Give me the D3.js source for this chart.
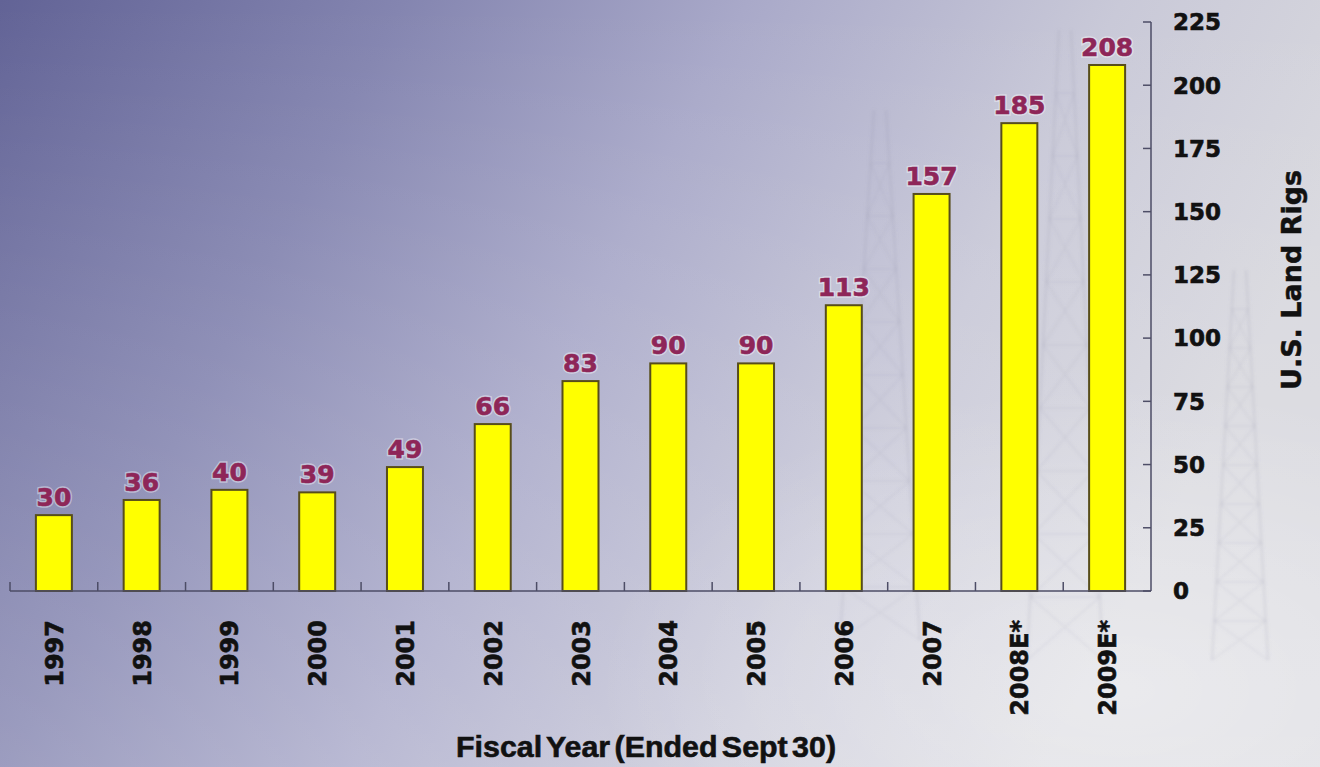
<!DOCTYPE html>
<html>
<head>
<meta charset="utf-8">
<script src="https://cdn.jsdelivr.net/npm/d3@7"></script>
<style>
  html, body { margin: 0; padding: 0; overflow: hidden; }
  svg { display: block; }
</style>
</head>
<body>
<svg id="chart" width="1320" height="767"></svg>
<script>
// U.S. land rig fleet by fiscal year
const years = ["1997", "1998", "1999", "2000", "2001", "2002", "2003", "2004", "2005", "2006", "2007", "2008E*", "2009E*"];
const rigs = [30, 36, 40, 39, 49, 66, 83, 90, 90, 113, 157, 185, 208];
const yTicks = [0, 25, 50, 75, 100, 125, 150, 175, 200, 225];

const W = 1320, H = 767;
const svg = d3.select("#chart");

// Background wash: deep slate-violet at top left fading to pale grey at right
const defs = svg.append("defs");
const bg = defs.append("linearGradient").attr("id", "bg")
  .attr("x1", "0").attr("y1", "0").attr("x2", "1").attr("y2", "0.3");
bg.append("stop").attr("offset", "0").attr("stop-color", "#626396");
bg.append("stop").attr("offset", "0.28").attr("stop-color", "#8485b0");
bg.append("stop").attr("offset", "0.52").attr("stop-color", "#a9a9c9");
bg.append("stop").attr("offset", "0.78").attr("stop-color", "#c9c9d8");
bg.append("stop").attr("offset", "1").attr("stop-color", "#d8d8de");
const glow = defs.append("radialGradient").attr("id", "glow")
  .attr("cx", "0.85").attr("cy", "0.9").attr("r", "0.4");
glow.append("stop").attr("offset", "0").attr("stop-color", "#ffffff").attr("stop-opacity", 0.35);
glow.append("stop").attr("offset", "1").attr("stop-color", "#ffffff").attr("stop-opacity", 0);
const bottomLift = defs.append("linearGradient").attr("id", "lift")
  .attr("x1", "0").attr("y1", "0").attr("x2", "0").attr("y2", "1");
bottomLift.append("stop").attr("offset", "0").attr("stop-color", "#ffffff").attr("stop-opacity", 0);
bottomLift.append("stop").attr("offset", "1").attr("stop-color", "#ffffff").attr("stop-opacity", 0.2);
defs.append("filter").attr("id", "soft")
  .append("feGaussianBlur").attr("stdDeviation", 1.6);

svg.append("rect").attr("width", W).attr("height", H).attr("fill", "url(#bg)");
svg.append("rect").attr("width", W).attr("height", H).attr("fill", "url(#lift)");
svg.append("rect").attr("width", W).attr("height", H).attr("fill", "url(#glow)");

// Faint, hazy drilling-derrick silhouettes in the backdrop
const derricks = [
  { base: 880, top: 110, half: 40, baseY: 640 },
  { base: 1065, top: 30, half: 38, baseY: 660 },
  { base: 1240, top: 270, half: 28, baseY: 660 }
];
const dg = svg.append("g").attr("stroke", "#80809a").attr("stroke-opacity", 0.12)
  .attr("fill", "none").attr("stroke-width", 3).attr("filter", "url(#soft)");
derricks.forEach(d => {
  const lx = d.base - d.half, rx = d.base + d.half;
  const tl = d.base - 6, tr = d.base + 6;
  dg.append("path").attr("d", `M${lx},${d.baseY}L${tl},${d.top}M${rx},${d.baseY}L${tr},${d.top}`);
  const n = 10;
  for (let k = 1; k < n; k++) {
    const t = k / n, t2 = (k + 1) / n;
    const yy = d.top + (d.baseY - d.top) * t;
    const yy2 = d.top + (d.baseY - d.top) * t2;
    const l = tl + (lx - tl) * t, r = tr + (rx - tr) * t;
    const l2 = tl + (lx - tl) * t2, r2 = tr + (rx - tr) * t2;
    dg.append("path").attr("stroke-width", 1.5)
      .attr("d", `M${l},${yy}L${r},${yy}M${l},${yy}L${r2},${yy2}M${r},${yy}L${l2},${yy2}`);
  }
});

// Scales
const x = d3.scaleBand().domain(years).range([10, 1151]).paddingInner(0.59).paddingOuter(0.295);
const xEdges = d3.scaleBand().domain(years).range([10, 1151]).padding(0);
const y = d3.scaleLinear().domain([0, 225]).range([591, 22]);

const heavyFont = "'DejaVu Sans', Verdana, sans-serif";
const titleFont = "'Liberation Sans', Arial, Helvetica, sans-serif";

// Bars
svg.append("g").selectAll("rect")
  .data(rigs)
  .join("rect")
  .attr("x", (d, i) => x(years[i]))
  .attr("y", d => y(d))
  .attr("width", x.bandwidth())
  .attr("height", d => y(0) - y(d))
  .attr("fill", "#ffff00")
  .attr("stroke", "#574d1a")
  .attr("stroke-width", 2);

// Value labels: a pale halo underneath, then the heavy maroon figure
const labelX = (d, i) => x(years[i]) + x.bandwidth() / 2;
const labels = svg.append("g")
  .attr("text-anchor", "middle")
  .attr("font-family", heavyFont)
  .attr("font-weight", "bold")
  .attr("font-size", 25);
labels.selectAll("text.halo")
  .data(rigs)
  .join("text")
  .attr("class", "halo")
  .attr("x", labelX)
  .attr("y", d => y(d) - 9)
  .attr("fill", "none")
  .attr("stroke", "#ffffff")
  .attr("stroke-opacity", 0.4)
  .attr("stroke-width", 3.5)
  .text(d => d);
labels.selectAll("text.value")
  .data(rigs)
  .join("text")
  .attr("class", "value")
  .attr("x", labelX)
  .attr("y", d => y(d) - 9)
  .attr("fill", "#8e2658")
  .attr("stroke", "#8e2658")
  .attr("stroke-width", 0.6)
  .text(d => d);

// Category axis along the bottom
const axisColor = "#4d4d66";
const xAxis = svg.append("g").attr("transform", `translate(0,${y(0)})`);
xAxis.append("line")
  .attr("x1", 10).attr("x2", 1151)
  .attr("stroke", axisColor).attr("stroke-width", 1.5);
xAxis.selectAll("line.tick")
  .data(years)
  .join("line")
  .attr("class", "tick")
  .attr("x1", d => xEdges(d)).attr("x2", d => xEdges(d))
  .attr("y1", 0).attr("y2", -9)
  .attr("stroke", axisColor).attr("stroke-width", 1.5);
xAxis.selectAll("text")
  .data(years)
  .join("text")
  .attr("transform", d => `translate(${x(d) + x.bandwidth() / 2 + 9},29) rotate(-90)`)
  .attr("text-anchor", "end")
  .attr("font-family", heavyFont)
  .attr("font-weight", "bold")
  .attr("font-size", 24)
  .attr("fill", "#111")
  .attr("stroke", "#111")
  .attr("stroke-width", 0.6)
  .text(d => d);

// Value axis on the right
const yAxis = svg.append("g").attr("transform", "translate(1151,0)");
yAxis.append("line")
  .attr("y1", y(0)).attr("y2", y(225))
  .attr("stroke", axisColor).attr("stroke-width", 1.5);
yAxis.selectAll("line.tick")
  .data(yTicks)
  .join("line")
  .attr("class", "tick")
  .attr("x1", -8).attr("x2", 0)
  .attr("y1", d => y(d)).attr("y2", d => y(d))
  .attr("stroke", axisColor).attr("stroke-width", 1.5);
yAxis.selectAll("text")
  .data(yTicks)
  .join("text")
  .attr("x", 22)
  .attr("y", d => y(d))
  .attr("dy", "0.36em")
  .attr("font-family", heavyFont)
  .attr("font-weight", "bold")
  .attr("font-size", 23)
  .attr("fill", "#111")
  .attr("stroke", "#111")
  .attr("stroke-width", 0.6)
  .text(d => d);

// Axis titles
svg.append("text")
  .attr("transform", "translate(1301,280) rotate(-90)")
  .attr("text-anchor", "middle")
  .attr("font-family", heavyFont)
  .attr("font-weight", "bold")
  .attr("font-size", 27)
  .attr("fill", "#111")
  .attr("stroke", "#111")
  .attr("stroke-width", 0.5)
  .text("U.S. Land Rigs");

svg.append("text")
  .attr("x", 456)
  .attr("y", 757)
  .attr("textLength", 380)
  .attr("lengthAdjust", "spacingAndGlyphs")
  .attr("word-spacing", -4)
  .attr("font-family", titleFont)
  .attr("font-weight", "bold")
  .attr("font-size", 30)
  .attr("fill", "#111")
  .attr("stroke", "#111")
  .attr("stroke-width", 0.6)
  .text("Fiscal Year (Ended Sept 30)");
</script>
</body>
</html>
